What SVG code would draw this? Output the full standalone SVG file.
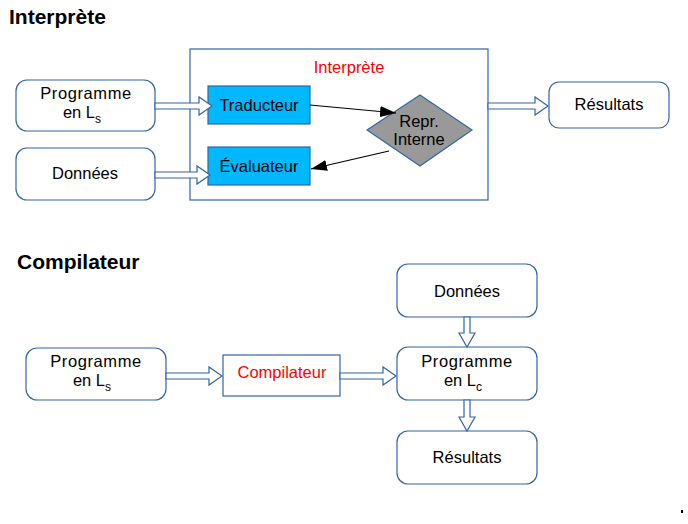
<svg xmlns="http://www.w3.org/2000/svg" width="688" height="524" viewBox="0 0 688 524">
<defs>
<style>
text{font-family:"Liberation Sans",Arial,sans-serif;fill:#000}
.t{font-size:16.5px;text-anchor:middle}
.p{letter-spacing:0.6px}
.h{font-size:21px;font-weight:bold}
.rb{fill:#fff;stroke:#3465a4;stroke-width:1.2}
.blk{fill:#fff;stroke:#3465a4;stroke-width:1.2}
.cy{fill:#00b8ff;stroke:#3465a4;stroke-width:1.2}
.red{fill:#ff0000}
.ln{stroke:#000;stroke-width:1.2;fill:none}
</style>
<marker id="ah" viewBox="0 0 10 10" refX="10" refY="5" markerWidth="16" markerHeight="11" markerUnits="userSpaceOnUse" orient="auto" preserveAspectRatio="none">
<path d="M0,0 L10,5 L0,10 z" fill="#000"/>
</marker>
</defs>
<rect width="688" height="524" fill="#fff"/>
<text class="h" x="9" y="24">Interprète</text>
<text class="h" x="17" y="269">Compilateur</text>

<g id="interprete-box">
<rect x="190" y="49" width="298" height="151" fill="#fff" stroke="#3465a4" stroke-width="1.2"/>
<text class="t red" x="349" y="73">Interprète</text>
</g>
<g id="prog1">
<rect class="rb" x="16" y="80" width="139" height="51" rx="11"/>
<text class="t p" x="86" y="99">Programme</text>
<text class="t" x="82" y="118">en L<tspan font-size="12" dy="5">s</tspan></text>
</g>
<g id="donnees1">
<rect class="rb" x="16" y="148" width="139" height="52" rx="11"/>
<text class="t" x="85" y="179">Données</text>
</g>
<g id="traducteur">
<rect class="cy" x="208" y="86" width="102" height="38"/>
<text class="t" x="259" y="111">Traducteur</text>
</g>
<g id="evaluateur">
<rect class="cy" x="208" y="147" width="102" height="38"/>
<text class="t" x="259" y="172">Évaluateur</text>
</g>
<g id="repr">
<polygon points="420,95 472,130 420,166 367,130" fill="#999999" stroke="#3465a4" stroke-width="1.2"/>
<text class="t" x="419" y="127">Repr.</text>
<text class="t" x="419" y="145">Interne</text>
</g>
<g id="resultats1">
<rect class="rb" x="549" y="82" width="120" height="46" rx="10"/>
<text class="t" x="609" y="110">Résultats</text>
</g>

<g id="prog2">
<rect class="rb" x="26" y="348" width="140" height="52" rx="11"/>
<text class="t p" x="96" y="367">Programme</text>
<text class="t" x="92" y="386">en L<tspan font-size="12" dy="5">s</tspan></text>
</g>
<g id="compilateur">
<rect x="223" y="355" width="117" height="41" fill="#fff" stroke="#3465a4" stroke-width="1.2"/>
<text class="t red" x="282" y="378">Compilateur</text>
</g>
<g id="donnees2">
<rect class="rb" x="397" y="264" width="140" height="53" rx="11"/>
<text class="t" x="467" y="297">Données</text>
</g>
<g id="prog3">
<rect class="rb" x="397" y="347" width="140" height="53" rx="11"/>
<text class="t p" x="467" y="367">Programme</text>
<text class="t" x="463" y="386">en L<tspan font-size="12" dy="5">c</tspan></text>
</g>
<g id="resultats2">
<rect class="rb" x="397" y="431" width="140" height="53" rx="11"/>
<text class="t" x="467" y="463">Résultats</text>
</g>

<g id="connectors">
<path class="blk" d="M155,103 H199 V97 L212,106 L199,115 V109 H155 Z"/>
<path class="blk" d="M155,172 H197 V166 L210,175 L197,184 V178 H155 Z"/>
<path class="blk" d="M488,103 H535 V97 L548,106 L535,115 V109 H488 Z"/>
<path class="blk" d="M166,373 H209 V367 L222,376 L209,385 V379 H166 Z"/>
<path class="blk" d="M340,373 H383 V367 L396,376 L383,385 V379 H340 Z"/>
<path class="blk" d="M464,317 V333 H459 L467,347 L475,333 H470 V317 Z"/>
<path class="blk" d="M464,400 V417 H459 L467,431 L475,417 H470 V400 Z"/>
<line class="ln" x1="310" y1="105" x2="396" y2="113" marker-end="url(#ah)"/>
<line class="ln" x1="389" y1="151" x2="311" y2="169" marker-end="url(#ah)"/>
</g>
<rect x="681" y="510" width="2" height="3" fill="#000"/>
</svg>
